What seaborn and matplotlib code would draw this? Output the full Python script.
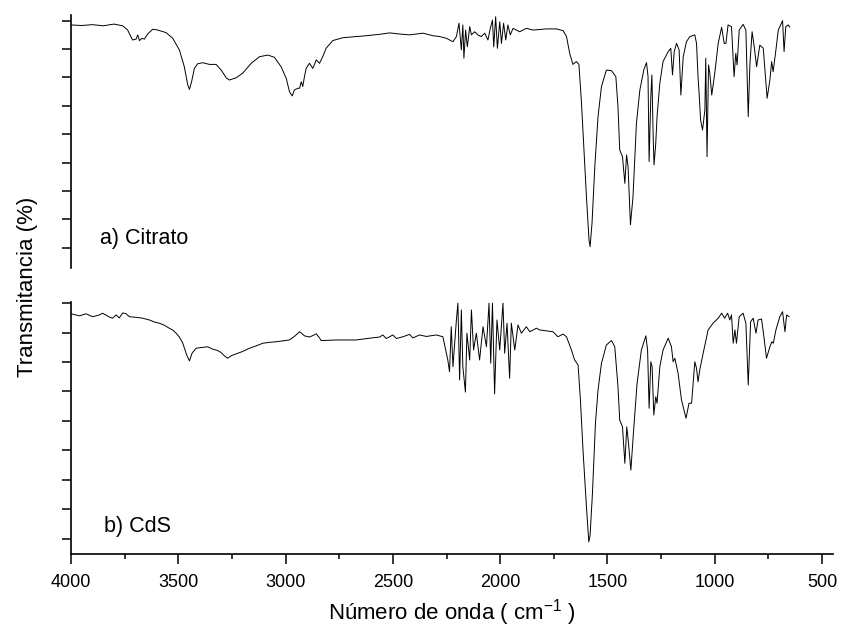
import matplotlib
matplotlib.use("Agg")
import matplotlib.pyplot as plt
from matplotlib.ticker import MultipleLocator, NullFormatter
import seaborn as sns
import pandas as pd

# ---------------- data ----------------
# a) Citrato : wavenumber (cm-1) and transmittance (arbitrary %, offset)
citrato_wn = [4000, 3950, 3900, 3850, 3800, 3759, 3736, 3713, 3697, 3689, 3681, 3669, 3658,
              3643, 3619, 3596, 3557, 3526, 3495, 3472, 3456, 3448, 3438, 3425, 3410, 3386,
              3355, 3324, 3300, 3277, 3262, 3230, 3200, 3160, 3122, 3083, 3052, 3021, 2997,
              2982, 2969, 2959, 2943, 2935, 2927, 2920, 2912, 2904, 2889, 2873, 2857, 2842,
              2827, 2811, 2780, 2733, 2624, 2562, 2515, 2469, 2422, 2360, 2313, 2282, 2251,
              2220, 2204, 2192, 2181, 2174, 2169, 2161, 2153, 2142, 2134, 2119, 2104, 2088,
              2072, 2057, 2046, 2036, 2030, 2021, 2013, 2002, 1994, 1984, 1974, 1964, 1953,
              1940, 1909, 1878, 1847, 1785, 1738, 1707, 1691, 1676, 1661, 1645, 1633, 1621,
              1611, 1598, 1586, 1581, 1572, 1559, 1544, 1528, 1505, 1481, 1461, 1451, 1443,
              1430, 1419, 1411, 1404, 1393, 1381, 1365, 1349, 1330, 1318, 1311, 1306, 1298,
              1293, 1287, 1283, 1275, 1269, 1256, 1241, 1217, 1205, 1197, 1189, 1178, 1166,
              1158, 1147, 1132, 1120, 1116, 1093, 1085, 1078, 1073, 1066, 1057, 1046, 1042,
              1036, 1029, 1023, 1014, 1000, 984, 968, 956, 948, 938, 922, 910, 902, 896, 886,
              868, 855, 844, 836, 826, 816, 805, 790, 774, 756, 743, 735, 728, 715, 704, 684,
              677, 669, 658, 650]
citrato_t = [88.5, 88.3, 88.6, 88.2, 88.8, 88.2, 86.7, 83.2, 83.5, 85.0, 83.0, 83.8, 83.5,
             85.3, 87.0, 86.7, 85.8, 83.8, 79.7, 73.8, 67.4, 65.8, 68.5, 73.2, 74.8, 75.2,
             74.6, 74.6, 72.6, 69.9, 69.1, 69.9, 71.5, 75.0, 77.3, 77.9, 77.1, 73.8, 69.7,
             65.0, 63.5, 65.6, 66.2, 66.2, 68.5, 66.8, 70.3, 73.2, 75.0, 73.2, 76.2, 75.0,
             77.3, 80.3, 83.0, 84.0, 84.7, 85.2, 85.7, 85.3, 85.0, 85.6, 84.7, 84.4, 83.8,
             82.6, 84.4, 89.1, 79.7, 88.5, 76.8, 86.7, 80.8, 87.9, 85.0, 86.1, 85.0, 84.4,
             85.6, 83.2, 87.3, 90.2, 80.8, 91.4, 80.3, 89.6, 82.0, 89.1, 83.2, 88.5, 85.0,
             87.3, 86.1, 87.3, 86.7, 87.1, 87.1, 86.5, 84.4, 78.5, 74.6, 75.6, 74.6, 60.9,
             46.8, 28.0, 12.8, 10.4, 18.7, 38.6, 56.2, 66.8, 72.6, 72.4, 70.3, 59.7, 44.5,
             42.1, 32.7, 42.7, 38.6, 18.1, 28.0, 53.9, 65.6, 72.9, 75.2, 70.3, 40.4, 63.2,
             70.9, 49.2, 39.2, 46.8, 56.2, 68.0, 75.6, 79.1, 80.3, 70.9, 79.1, 82.0, 79.7,
             63.8, 77.3, 82.6, 84.0, 84.4, 85.0, 82.0, 70.3, 64.4, 55.0, 51.5, 58.6, 76.8,
             42.1, 74.4, 71.5, 63.8, 71.5, 82.0, 87.7, 82.0, 82.0, 88.5, 87.9, 70.3, 78.5,
             74.4, 86.7, 88.7, 86.7, 56.2, 75.0, 86.1, 80.8, 73.8, 81.4, 80.3, 62.7, 69.1,
             75.6, 72.0, 79.7, 86.7, 90.0, 79.1, 87.9, 88.5, 87.7]

# b) CdS
cds_wn = [4000, 3961, 3930, 3899, 3868, 3853, 3821, 3806, 3790, 3775, 3759, 3743, 3728, 3697,
          3666, 3635, 3611, 3588, 3565, 3542, 3526, 3510, 3495, 3479, 3461, 3448, 3436, 3417,
          3386, 3363, 3340, 3316, 3300, 3285, 3270, 3252, 3230, 3200, 3168, 3137, 3106, 3075,
          3044, 3013, 2982, 2959, 2935, 2924, 2912, 2889, 2873, 2857, 2842, 2834, 2764, 2671,
          2609, 2562, 2547, 2531, 2500, 2484, 2453, 2422, 2407, 2376, 2344, 2298, 2267, 2244,
          2236, 2228, 2220, 2204, 2197, 2189, 2181, 2174, 2162, 2155, 2142, 2134, 2124, 2111,
          2096, 2080, 2064, 2052, 2044, 2036, 2026, 2015, 2002, 1987, 1979, 1968, 1956, 1948,
          1932, 1917, 1901, 1878, 1862, 1831, 1816, 1754, 1731, 1707, 1691, 1668, 1653, 1637,
          1626, 1614, 1598, 1587, 1581, 1570, 1556, 1544, 1528, 1505, 1481, 1466, 1451, 1443,
          1430, 1419, 1410, 1402, 1391, 1377, 1362, 1342, 1321, 1313, 1306, 1298, 1292, 1284,
          1275, 1269, 1256, 1241, 1217, 1202, 1194, 1186, 1171, 1155, 1134, 1120, 1108, 1093,
          1085, 1078, 1070, 1054, 1031, 1008, 984, 968, 954, 940, 930, 922, 914, 906, 899,
          886, 868, 855, 844, 833, 821, 808, 798, 782, 771, 759, 743, 734, 727, 715, 697,
          684, 673, 665, 653]
cds_t = [86.4, 85.7, 86.4, 85.4, 86.0, 86.6, 85.3, 84.9, 86.0, 85.0, 86.7, 86.4, 85.4, 85.2,
         84.9, 84.3, 83.6, 83.2, 82.5, 81.5, 80.9, 79.8, 78.5, 76.4, 72.4, 70.4, 73.0, 74.7,
         75.0, 75.2, 74.4, 73.9, 73.2, 72.1, 71.3, 72.2, 72.8, 73.6, 74.7, 75.5, 76.4, 76.7,
         76.9, 77.2, 77.5, 78.7, 80.3, 79.7, 78.9, 78.5, 79.0, 79.6, 78.2, 77.3, 77.5, 77.5,
         78.1, 78.5, 79.2, 78.0, 79.2, 78.0, 78.6, 79.4, 78.2, 79.2, 78.7, 79.2, 78.6, 70.7,
         66.7, 82.0, 68.4, 84.3, 90.0, 63.9, 87.7, 68.4, 59.8, 79.8, 70.7, 87.7, 74.1, 79.8,
         70.7, 82.0, 75.2, 90.0, 69.6, 90.0, 59.2, 84.3, 74.1, 90.0, 73.0, 83.2, 64.5, 83.2,
         74.1, 82.6, 79.8, 82.0, 80.3, 81.5, 80.9, 80.3, 78.6, 79.5, 78.6, 74.1, 70.7, 69.0,
         57.1, 40.1, 20.8, 8.9, 11.2, 25.4, 49.2, 60.5, 69.6, 75.8, 77.3, 75.2, 61.6, 50.3,
         48.0, 35.6, 48.0, 42.4, 33.3, 48.0, 62.8, 74.1, 78.9, 74.1, 54.3, 70.1, 68.4, 52.0,
         58.2, 56.0, 68.4, 74.1, 78.1, 75.2, 70.1, 71.3, 66.2, 57.1, 50.9, 56.0, 56.0, 70.1,
         67.9, 63.3, 67.3, 73.0, 80.9, 83.2, 84.9, 86.6, 84.9, 86.6, 84.3, 86.0, 76.4, 80.9, 76.4,
         85.4, 86.6, 83.2, 62.2, 83.7, 84.9, 79.8, 84.3, 84.6, 78.6, 71.3, 75.2, 76.9, 76.4, 80.9, 85.4,
         87.1, 80.3, 86.0, 85.4]

labels = ["a) Citrato", "b) CdS"]
y_ticks = [10, 20, 30, 40, 50, 60, 70, 80, 90]
x_major = [4000, 3500, 3000, 2500, 2000, 1500, 1000, 500]

# ---------------- style ----------------
sns.set_theme(style="ticks")
plt.rcParams["font.family"] = ["Liberation Sans", "DejaVu Sans"]
plt.rcParams["mathtext.fontset"] = "custom"
plt.rcParams["mathtext.rm"] = "Liberation Sans"
plt.rcParams["mathtext.it"] = "Liberation Sans:italic"
plt.rcParams["mathtext.bf"] = "Liberation Sans:bold"

fig = plt.figure(figsize=(8.42, 6.37), dpi=100)
ax_top = fig.add_axes([71 / 842, 1 - 268 / 637, 762 / 842, 253 / 637])
ax_bot = fig.add_axes([71 / 842, 1 - 554 / 637, 762 / 842, 252 / 637])

df_a = pd.DataFrame({"wn": citrato_wn, "t": citrato_t})
df_b = pd.DataFrame({"wn": cds_wn, "t": cds_t})

sns.lineplot(data=df_a, x="wn", y="t", ax=ax_top, color="black", linewidth=0.7,
             estimator=None, sort=False)
sns.lineplot(data=df_b, x="wn", y="t", ax=ax_bot, color="black", linewidth=0.7,
             estimator=None, sort=False)

for ax in (ax_top, ax_bot):
    ax.set_xlim(4000, 449)
    ax.set_yticks(y_ticks)
    ax.yaxis.set_major_formatter(NullFormatter())
    ax.set_xlabel("")
    ax.set_ylabel("")
    ax.spines["top"].set_visible(False)
    ax.spines["right"].set_visible(False)
    ax.spines["left"].set_linewidth(1.2)
    ax.spines["left"].set_color("black")
    ax.tick_params(axis="y", direction="out", length=6.5, width=1.1, color="black")
    ax.patch.set_alpha(0)

ax_top.set_ylim(2.9, 92.0)
ax_bot.set_ylim(4.8, 90.4)

ax_top.spines["bottom"].set_visible(False)
ax_top.tick_params(axis="x", which="both", bottom=False, labelbottom=False)

ax_bot.spines["bottom"].set_linewidth(1.2)
ax_bot.spines["bottom"].set_color("black")
ax_bot.set_xticks(x_major)
ax_bot.set_xticklabels([str(v) for v in x_major])
ax_bot.xaxis.set_minor_locator(MultipleLocator(250))
ax_bot.tick_params(axis="x", which="major", direction="out", length=7, width=1.1,
                   color="black", labelsize=13, pad=7.5, labelcolor="black")
ax_bot.tick_params(axis="x", which="minor", direction="out", length=3.5, width=1.1,
                   color="black")

ax_top.text(29 / 762, 0.118, labels[0], transform=ax_top.transAxes,
            fontsize=15.5, ha="left", va="center", color="black")
ax_bot.text(33 / 762, 0.11, labels[1], transform=ax_bot.transAxes,
            fontsize=15.5, ha="left", va="center", color="black")

ax_bot.set_xlabel("Número de onda ( cm$^{-1}$ )", fontsize=16, labelpad=4, color="black")
fig.text(27 / 842, 1 - 287 / 637, "Transmitancia (%)", rotation=90, fontsize=16,
         ha="center", va="center", color="black")

fig.savefig("out.png", dpi=100, facecolor="white")
